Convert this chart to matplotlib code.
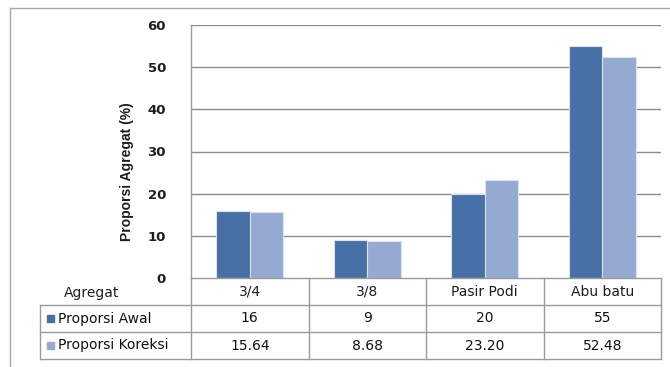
import matplotlib
matplotlib.use("Agg")
import matplotlib.pyplot as plt
from matplotlib.lines import Line2D
from matplotlib.patches import Rectangle

# Data
categories = ["3/4", "3/8", "Pasir Podi", "Abu batu"]
series_names = ["Proporsi Awal", "Proporsi Koreksi"]
awal = [16, 9, 20, 55]
koreksi = [15.64, 8.68, 23.20, 52.48]
awal_labels = ["16", "9", "20", "55"]
koreksi_labels = ["15.64", "8.68", "23.20", "52.48"]
yticks = [0, 10, 20, 30, 40, 50, 60]

W, H = 670, 367
DPI = 100
dark = "#4670A6"
light = "#95AAD2"
grid_c = "#8C8C8C"
line_c = "#9A9A9A"
txt_c = "#1E1E1E"

fig = plt.figure(figsize=(W / DPI, H / DPI), dpi=DPI)
fig.patch.set_facecolor("white")


def fx(px):
    return px / W


def fy(py):
    return 1 - py / H


# outer chart frame
fig.add_artist(Line2D([fx(10), fx(10)], [fy(8), fy(H + 5)], color="#A8A8A8", lw=1.0))
fig.add_artist(Line2D([fx(10), fx(W + 5)], [fy(8), fy(8)], color="#A8A8A8", lw=1.0))

# plot area
left, right, top, bottom = 191, 661, 25, 278
ax = fig.add_axes([fx(left), fy(bottom), fx(right) - fx(left), fy(top) - fy(bottom)])
n = len(categories)
xs = list(range(n))
bw = 0.285
ax.bar([x - bw / 2 for x in xs], awal, width=bw, color=dark, edgecolor="#DCE3EF", linewidth=0.8, zorder=3)
ax.bar([x + bw / 2 for x in xs], koreksi, width=bw, color=light, edgecolor="#DCE3EF", linewidth=0.8, zorder=3)
ax.set_xlim(-0.5, n - 0.5)
ax.set_ylim(0, 60)
ax.set_yticks(yticks)
ax.set_yticklabels([str(t) for t in yticks], fontsize=9.5, color=txt_c, fontweight="bold")
ax.tick_params(axis="y", length=0, pad=18)
ax.set_xticks([])
for t in yticks[1:]:
    ax.axhline(t, color=grid_c, lw=1.0, zorder=1)
for s in ["top", "right", "bottom"]:
    ax.spines[s].set_visible(False)
ax.spines["left"].set_color(line_c)
ax.spines["left"].set_linewidth(1.0)
ax.set_ylabel("Proporsi Agregat (%)", fontsize=10, fontweight="bold",
              family=["Liberation Sans Narrow", "Liberation Sans", "DejaVu Sans"],
              color=txt_c, labelpad=8)
ax.yaxis.set_label_coords(-0.122, 0.42)

# data table below the plot
t_bottom = 359
tab = fig.add_axes([fx(left), fy(t_bottom), fx(right) - fx(left), fy(bottom) - fy(t_bottom)])
tab.set_xlim(-0.5, n - 0.5)
tab.set_ylim(0, 3)
tab.axis("off")
leg_left = -0.5 - (left - 40) / ((right - left) / n)

kw = dict(color=line_c, lw=1.0, clip_on=False)
# vertical lines
for k in range(n + 1):
    tab.plot([k - 0.5, k - 0.5], [0, 3], **kw)
tab.plot([leg_left, leg_left], [0, 2], **kw)
# horizontal lines
tab.plot([-0.5, n - 0.5], [3, 3], **kw)
tab.plot([leg_left, n - 0.5], [2, 2], **kw)
tab.plot([leg_left, n - 0.5], [1, 1], **kw)
tab.plot([leg_left, n - 0.5], [0, 0], **kw)

fs = 10
tab.text(leg_left + 0.2, 2.45, "Agregat", ha="left", va="center", fontsize=fs, color=txt_c, clip_on=False)
for i, c in enumerate(categories):
    tab.text(i, 2.5, c, ha="center", va="center", fontsize=fs, color=txt_c)
    tab.text(i, 1.5, awal_labels[i], ha="center", va="center", fontsize=fs, color="#111111")
    tab.text(i, 0.5, koreksi_labels[i], ha="center", va="center", fontsize=fs, color="#111111")

unit = (right - left) / n
sq = 7 / unit
for row, (name, col) in enumerate(zip(series_names, [dark, light])):
    yc = 1.5 - row
    tab.add_patch(Rectangle((leg_left + 7 / unit, yc - 0.13), sq, 0.26, color=col, clip_on=False))
    tab.text(leg_left + 18 / unit, yc, name, ha="left", va="center", fontsize=fs,
             color="#111111", clip_on=False)

fig.savefig("out.png", dpi=DPI, facecolor="white")
